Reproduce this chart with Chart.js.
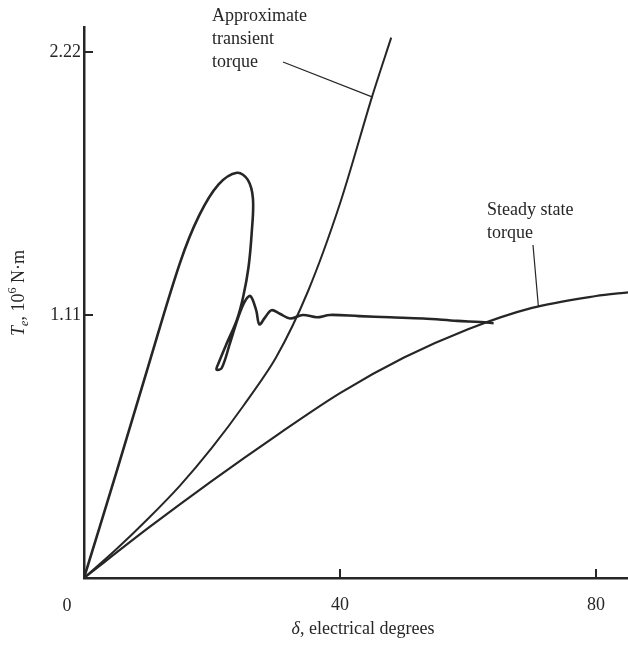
<!DOCTYPE html>
<html>
<head>
<meta charset="utf-8">
<title>Torque angle swing</title>
<script src="https://cdn.jsdelivr.net/npm/chart.js@4.4.0/dist/chart.umd.min.js"></script>
<style>
  html, body { margin: 0; padding: 0; background: #fff; }
  #wrap { width: 628px; height: 645px; position: relative; }
</style>
</head>
<body>
<div id="wrap"><canvas id="myChart"></canvas></div>
<script>
// steady state torque curve (delta in degrees, torque in 10^6 N.m)
const steadyDelta  = [0, 10, 20, 30, 40, 50, 60, 70, 80, 85];
const steadyTorque = [0, 0.21, 0.41, 0.60, 0.78, 0.93, 1.05, 1.14, 1.19, 1.205];

// approximate transient torque curve
const transientDelta  = [0, 5, 10, 15, 20, 25, 30, 35, 40, 45, 48];
const transientTorque = [0, 0.12, 0.25, 0.39, 0.55, 0.73, 0.93, 1.21, 1.58, 2.03, 2.28];

// swing trajectory: rises, loops back, rings and settles on the steady curve
const swingDelta = [0, 5, 10, 15, 18, 21, 23.9, 25.6, 26.4, 26.2, 25.7, 24.9, 23.9, 22.3, 21.0, 20.7,
  21.5, 22.8, 24.1, 25.2, 26.0, 26.9, 27.4, 28.3, 29.3, 30.6, 32.2, 34.2, 36.4, 38.4, 43, 47.8, 53, 58.3, 62, 64];
const swingTorque = [0, 0.44, 0.89, 1.33, 1.53, 1.66, 1.71, 1.68, 1.60, 1.455, 1.31, 1.19, 1.09, 0.99, 0.905, 0.88,
  0.885, 0.99, 1.10, 1.17, 1.19, 1.13, 1.07, 1.10, 1.13, 1.115, 1.095, 1.11, 1.10, 1.11, 1.105, 1.10, 1.095, 1.085, 1.08, 1.075];

// axis ticks
const xTicks = [40, 80];
const yTicks = [1.11, 2.22];
const yTickLabels = ["1.11", "2.22"];

const ink = "#262626";
const serif = "'Liberation Serif', 'DejaVu Serif', serif";

function pts(xs, ys) {
  return xs.map((x, i) => ({ x: x, y: ys[i] }));
}

// tick marks pointing into the plot, origin label, axis titles and callouts
const extras = {
  id: "extras",
  afterDraw(chart) {
    const ctx = chart.ctx;
    const xs = chart.scales.x, ys = chart.scales.y;
    const area = chart.chartArea;
    ctx.save();
    ctx.strokeStyle = ink;
    ctx.lineWidth = 2;
    ctx.beginPath();
    xTicks.forEach(v => {
      const px = xs.getPixelForValue(v);
      ctx.moveTo(px, area.bottom);
      ctx.lineTo(px, area.bottom - 9);
    });
    yTicks.forEach(v => {
      const py = ys.getPixelForValue(v);
      ctx.moveTo(area.left, py);
      ctx.lineTo(area.left + 9, py);
    });
    ctx.stroke();

    ctx.fillStyle = ink;
    ctx.font = "18px " + serif;
    ctx.textAlign = "center";
    ctx.textBaseline = "alphabetic";
    ctx.fillText("0", xs.getPixelForValue(0) - 17, area.bottom + 33);

    // x title
    ctx.font = "italic 18px " + serif;
    const d = "\u03b4";
    const rest = ", electrical degrees";
    const wd = ctx.measureText(d).width;
    ctx.font = "18px " + serif;
    const wr = ctx.measureText(rest).width;
    let x0 = 363 - (wd + wr) / 2;
    ctx.textAlign = "left";
    ctx.font = "italic 18px " + serif;
    ctx.fillText(d, x0, 634);
    ctx.font = "18px " + serif;
    ctx.fillText(rest, x0 + wd, 634);

    // y title, rotated, with subscript and superscript
    const parts = [
      { t: "T", f: "italic 18px " + serif, dy: 0 },
      { t: "e", f: "italic 12px " + serif, dy: 4 },
      { t: ", 10", f: "18px " + serif, dy: 0 },
      { t: "6", f: "12px " + serif, dy: -8 },
      { t: " N\u00b7m", f: "18px " + serif, dy: 0 }
    ];
    let total = 0;
    parts.forEach(p => { ctx.font = p.f; p.w = ctx.measureText(p.t).width; total += p.w; });
    ctx.translate(24, 293);
    ctx.rotate(-Math.PI / 2);
    let cx = -total / 2;
    parts.forEach(p => {
      ctx.font = p.f;
      ctx.fillText(p.t, cx, p.dy);
      cx += p.w;
    });
    ctx.setTransform(1, 0, 0, 1, 0, 0);

    // callout labels
    ctx.font = "18px " + serif;
    ctx.textAlign = "left";
    ctx.fillText("Approximate", 212, 21);
    ctx.fillText("transient", 212, 44);
    ctx.fillText("torque", 212, 67);
    ctx.fillText("Steady state", 487, 215);
    ctx.fillText("torque", 487, 238);

    ctx.lineWidth = 1.2;
    ctx.beginPath();
    ctx.moveTo(283, 62);
    ctx.lineTo(xs.getPixelForValue(45), ys.getPixelForValue(2.03));
    ctx.moveTo(533, 245);
    ctx.lineTo(xs.getPixelForValue(71), ys.getPixelForValue(1.145));
    ctx.stroke();
    ctx.restore();
  }
};

const lineStyle = {
  showLine: true,
  pointRadius: 0,
  borderColor: ink,
  fill: false
};

new Chart(document.getElementById("myChart"), {
  type: "scatter",
  data: {
    datasets: [
      Object.assign({ label: "Steady state torque", data: pts(steadyDelta, steadyTorque), borderWidth: 2.2, tension: 0.3 }, lineStyle),
      Object.assign({ label: "Approximate transient torque", data: pts(transientDelta, transientTorque), borderWidth: 2, tension: 0.3 }, lineStyle),
      Object.assign({ label: "Swing", data: pts(swingDelta, swingTorque), borderWidth: 2.6, tension: 0.35 }, lineStyle)
    ]
  },
  options: {
    responsive: true,
    maintainAspectRatio: false,
    animation: false,
    layout: { padding: { top: 27, right: 0, left: 0, bottom: 0 } },
    plugins: { legend: { display: false }, tooltip: { enabled: false } },
    scales: {
      x: {
        type: "linear",
        min: 0,
        max: 85,
        grid: { display: false, drawTicks: false },
        border: { display: true, color: ink, width: 2.5 },
        afterBuildTicks: s => { s.ticks = xTicks.map(v => ({ value: v })); },
        afterFit: s => { s.height = 67; },
        ticks: { color: ink, padding: 16, maxRotation: 0, font: { family: serif, size: 18 } }
      },
      y: {
        type: "linear",
        min: 0,
        max: 2.325,
        grid: { display: false, drawTicks: false },
        border: { display: true, color: ink, width: 2.5 },
        afterBuildTicks: s => { s.ticks = yTicks.map(v => ({ value: v })); },
        afterFit: s => { s.width = 84; },
        ticks: {
          color: ink,
          padding: 3,
          font: { family: serif, size: 18 },
          callback: (v, i) => yTickLabels[i]
        }
      }
    }
  },
  plugins: [extras]
});
</script>
</body>
</html>
